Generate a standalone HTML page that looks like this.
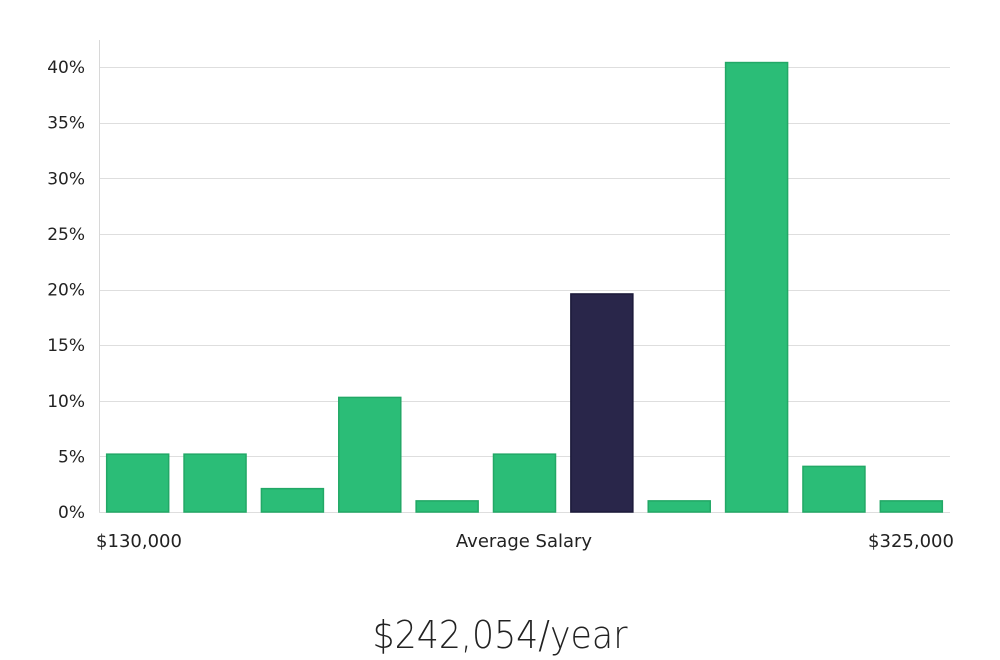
<!DOCTYPE html>
<html><head><meta charset="utf-8"><style>
body{margin:0;background:#fff;width:1000px;height:660px;overflow:hidden;font-family:"DejaVu Sans","Liberation Sans",sans-serif;}
svg{display:block}
</style></head><body>
<svg id="chart" width="1000" height="660" xmlns="http://www.w3.org/2000/svg">
<g id="grid"></g><g id="bars"></g><g id="labels"></g>
<line x1="99.5" y1="40" x2="99.5" y2="512" stroke="#d8d8d8" stroke-width="1"/>
<text x="139" y="547" font-size="18" text-anchor="middle" fill="#222">$130,000</text>
<text x="524" y="547" font-size="18" text-anchor="middle" fill="#222">Average Salary</text>
<text x="911" y="547" font-size="18" text-anchor="middle" fill="#222">$325,000</text>
<text x="500" y="648" font-size="38" font-weight="300" text-anchor="middle" fill="#222" font-family="'DejaVu Sans','Liberation Sans',sans-serif" textLength="255" lengthAdjust="spacingAndGlyphs">$242,054/year</text>
</svg>
<script>
const bins=["b1","b2","b3","b4","b5","b6","b7","b8","b9","b10","b11"];
const values=[5.2,5.2,2.1,10.3,1.0,5.2,19.6,1.0,40.4,4.1,1.0];
const highlight=[false,false,false,false,false,false,true,false,false,false,false];
const ticks=[0,5,10,15,20,25,30,35,40];
const tickLabels=["0%","5%","10%","15%","20%","25%","30%","35%","40%"];
const NS="http://www.w3.org/2000/svg";
const x0=99,x1=950,y0=512,yTop=67;
const y=v=>y0-(v/40)*(y0-yTop);
const band=(x1-x0)/bins.length;
const grid=document.getElementById('grid'),bars=document.getElementById('bars'),labels=document.getElementById('labels');
ticks.forEach((t,i)=>{
  const l=document.createElementNS(NS,'line');
  
  
  l.setAttribute('x1',x0);l.setAttribute('x2',x1);
  l.setAttribute('y1',Math.round(y(t))+0.5);l.setAttribute('y2',Math.round(y(t))+0.5);
  l.setAttribute('stroke','#dedede');grid.appendChild(l);
  const tx=document.createElementNS(NS,'text');
  
  
  tx.setAttribute('x',85);tx.setAttribute('y',y(t)+6);
  tx.setAttribute('text-anchor','end');tx.setAttribute('font-size','17');tx.setAttribute('fill','#222');
  tx.textContent=tickLabels[i];labels.appendChild(tx);
});
values.forEach((v,i)=>{
  const r=document.createElementNS(NS,'rect');
  
  
  const bw=62;
  r.setAttribute('x',x0+band*i+(band-bw)/2);
  r.setAttribute('y',y(v));
  r.setAttribute('width',bw);
  r.setAttribute('height',y0-y(v));
  r.setAttribute('fill',highlight[i]?'#29264a':'#2bbd77');
  r.setAttribute('stroke',highlight[i]?'#1c1a3a':'#22a866');
  r.setAttribute('stroke-width','1.5');
  bars.appendChild(r);
});
</script>
</body></html>
